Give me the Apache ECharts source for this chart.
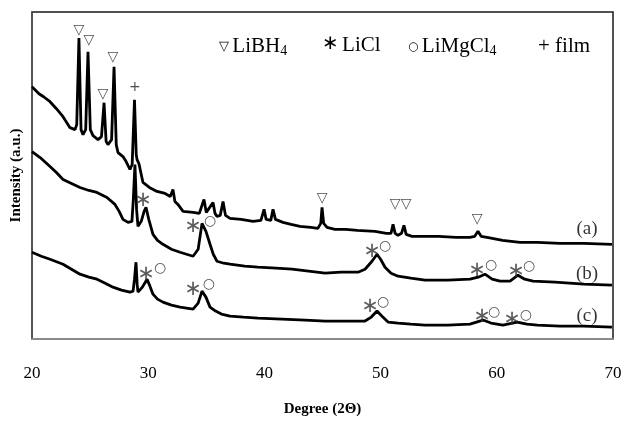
<!DOCTYPE html>
<html>
<head>
<meta charset="utf-8">
<script src="https://cdn.jsdelivr.net/npm/echarts@6/dist/echarts.min.js"></script>
<style>
  html, body { margin: 0; padding: 0; background: #fff; }
  #main { width: 625px; height: 422px; }
</style>
</head>
<body>
<div id="main"></div>
<script>
// [2theta, intensity (a.u., offset traces)]
var traceA = [
  [20.0, 253], [20.6, 246], [21.0, 243], [21.55, 238], [22.1, 231], [22.67, 223], [23.27, 212], [23.7, 210],
  [23.85, 215], [24.04, 302], [24.22, 210], [24.39, 205], [24.62, 210], [24.82, 288], [25.02, 210],
  [25.25, 204], [25.68, 200], [25.98, 203], [26.2, 237], [26.38, 198], [26.54, 195], [26.85, 200],
  [27.06, 273], [27.25, 195], [27.4, 187], [27.83, 183], [28.1, 178], [28.43, 170], [28.62, 175],
  [28.82, 240], [28.97, 185], [29.04, 180], [29.2, 176], [29.55, 157], [30.1, 152], [30.76, 148],
  [31.45, 146], [31.9, 143], [32.13, 150], [32.3, 138], [32.56, 135], [33.0, 128], [33.86, 127],
  [34.4, 126], [34.8, 140], [35.0, 127], [35.15, 125], [35.58, 137], [35.75, 126], [35.92, 123],
  [36.2, 124], [36.44, 138], [36.65, 124], [37.04, 121], [38.0, 120], [39.02, 118], [39.7, 119],
  [39.97, 130], [40.15, 120], [40.31, 118], [40.55, 119], [40.74, 130], [40.95, 120], [41.6, 117],
  [42.3, 115], [43.06, 113], [44.0, 112], [44.6, 111], [44.85, 116], [44.96, 132], [45.1, 116],
  [45.39, 112], [46.08, 110], [47.0, 110], [48.0, 109], [49.52, 108], [50.5, 106], [50.9, 106],
  [51.07, 115], [51.25, 106], [51.5, 104], [51.8, 106], [52.01, 114], [52.2, 105], [52.7, 103],
  [53.82, 103], [55.0, 103], [56.5, 102], [57.69, 102], [58.1, 103], [58.38, 108], [58.65, 103],
  [59.16, 102], [60.5, 99], [62.0, 97], [63.5, 97], [65.44, 96], [67.5, 96], [69.91, 95]
];
var traceB = [
  [20.0, 188], [20.7, 182], [21.55, 173], [22.1, 167], [22.67, 160], [23.4, 156], [24.13, 152],
  [24.9, 149], [25.59, 147], [26.45, 142], [27.14, 135], [27.5, 128], [27.83, 120], [28.26, 117],
  [28.6, 118], [28.72, 140], [28.86, 175], [29.0, 130], [29.12, 113], [29.4, 118], [29.65, 128],
  [29.81, 132], [30.05, 120], [30.41, 105], [30.8, 99], [31.27, 95], [32.0, 90], [32.74, 87],
  [33.3, 85], [33.86, 83], [34.3, 90], [34.63, 116], [34.97, 108], [35.32, 95], [35.6, 85],
  [35.92, 78], [36.5, 76], [37.04, 75], [38.3, 73], [39.45, 72], [41.0, 71], [42.38, 70],
  [43.8, 68], [45.22, 66], [46.6, 67], [48.06, 67], [48.66, 70], [49.26, 78], [49.69, 85],
  [50.0, 80], [50.38, 72], [50.9, 66], [51.5, 63], [52.6, 61], [53.82, 59], [55.8, 59],
  [57.69, 60], [58.4, 62], [58.98, 65], [59.6, 60], [60.28, 58], [61.14, 58], [61.82, 64],
  [62.4, 60], [63.12, 58], [65.0, 57], [67.5, 55], [69.91, 54]
];
var traceC = [
  [20.0, 87], [20.8, 83], [21.55, 80], [22.67, 75], [23.4, 70], [24.13, 65], [24.9, 62],
  [25.59, 60], [26.3, 56], [26.97, 52], [27.7, 49], [28.43, 47], [28.7, 48], [28.82, 60],
  [28.95, 77], [29.05, 55], [29.12, 47], [29.5, 52], [29.9, 60], [30.15, 53], [30.41, 45],
  [30.8, 40], [31.27, 37], [32.0, 34], [32.74, 32], [33.3, 31], [33.86, 30], [34.3, 36],
  [34.63, 48], [34.97, 42], [35.32, 32], [35.8, 28], [36.3, 25], [37.04, 23], [38.2, 22],
  [39.45, 21], [41.5, 20], [43.5, 19], [45.22, 18], [47.0, 18], [48.66, 18], [49.2, 22],
  [49.69, 28], [50.1, 23], [50.64, 17], [51.5, 16], [52.6, 15], [53.82, 14], [55.8, 14],
  [57.69, 15], [58.81, 19], [59.5, 16], [60.53, 14], [61.74, 17], [62.6, 15], [63.5, 14],
  [65.44, 13], [67.5, 13], [69.91, 12]
];
// peak markers: [2theta, height, glyph]
var peakMarks = [
  [24.04, 310, '▽'], [24.9, 300, '▽'], [26.11, 245, '▽'], [26.97, 283, '▽'], [28.86, 252, '+'],
  [44.96, 141, '▽'], [51.24, 135, '▽'], [52.19, 135, '▽'], [58.3, 120, '▽'],
  [29.55, 139, '∗'], [33.86, 113, '∗'], [35.32, 118, '○'], [49.26, 88, '∗'], [50.38, 93, '○'],
  [58.3, 69, '∗'], [59.5, 74, '○'], [61.65, 68, '∗'], [62.77, 73, '○'],
  [29.81, 65, '∗'], [31.02, 71, '○'], [33.86, 50, '∗'], [35.23, 55, '○'], [49.09, 33, '∗'],
  [50.21, 37, '○'], [58.73, 23, '∗'], [59.76, 27, '○'], [61.31, 20, '∗'], [62.51, 24, '○']
];
var traceLabels = [[67.76, 110, '(a)'], [67.76, 65, '(b)'], [67.76, 23, '(c)']];
var xTicks = [20, 30, 40, 50, 60, 70];

var serif = '"Liberation Serif", "Times New Roman", serif';
var chart = echarts.init(document.getElementById('main'));

function lineSeries(data) {
  return {
    type: 'line',
    data: data,
    showSymbol: false,
    smooth: false,
    lineStyle: { color: '#000', width: 2.8 },
    z: 3
  };
}

function glyphSeries(data, size, color) {
  return {
    type: 'scatter',
    data: data,
    symbolSize: 0,
    z: 4,
    label: {
      show: true,
      position: 'inside',
      formatter: function (p) { return p.data[2]; },
      fontFamily: '"DejaVu Sans", sans-serif',
      fontSize: size,
      color: color
    }
  };
}

chart.setOption({
  animation: false,
  grid: {
    left: 32, right: 12, top: 12, bottom: 82,
    show: true, borderColor: '#1a1a1a', borderWidth: 1.5
  },
  xAxis: {
    type: 'value',
    min: xTicks[0],
    max: xTicks[xTicks.length - 1],
    interval: 10,
    name: 'Degree (2Θ)',
    nameLocation: 'middle',
    nameGap: 63,
    nameTextStyle: { fontFamily: serif, fontWeight: 'bold', fontSize: 15, color: '#000' },
    axisLine: { show: true, lineStyle: { color: '#8a8a8a', width: 2 } },
    axisTick: { show: false },
    splitLine: { show: false },
    axisLabel: { fontFamily: serif, fontSize: 17, color: '#000', margin: 26 }
  },
  yAxis: {
    type: 'value',
    min: 0,
    max: 328,
    name: 'Intensity (a.u.)',
    nameLocation: 'middle',
    nameGap: 8,
    nameTextStyle: { fontFamily: serif, fontWeight: 'bold', fontSize: 15, color: '#000' },
    axisLine: { show: true, lineStyle: { color: '#555', width: 1.5 } },
    axisTick: { show: false },
    axisLabel: { show: false },
    splitLine: { show: false }
  },
  series: [
    lineSeries(traceA),
    lineSeries(traceB),
    lineSeries(traceC),
    glyphSeries(peakMarks.filter(function (d) { return d[2] !== '∗'; }), 14, '#222'),
    glyphSeries(peakMarks.filter(function (d) { return d[2] === '∗'; }), 21, '#333'),
    {
      type: 'scatter',
      data: traceLabels,
      symbolSize: 0,
      z: 4,
      label: {
        show: true,
        position: 'inside',
        formatter: function (p) { return p.data[2]; },
        fontFamily: serif,
        fontSize: 19,
        color: '#000'
      }
    }
  ],
  graphic: [
    {
      type: 'text', left: 219, top: 36,
      style: {
        text: '{s|▽} {t|LiBH}{b|4}',
        rich: {
          s: { fontFamily: '"DejaVu Sans"', fontSize: 13, fill: '#000' },
          t: { fontFamily: serif, fontSize: 21, fill: '#000' },
          b: { fontFamily: serif, fontSize: 14, fill: '#000', padding: [10, 0, 0, 0] }
        }
      }
    },
    {
      type: 'text', left: 322, top: 34,
      style: {
        text: '{s|∗} {t|LiCl}',
        rich: {
          s: { fontFamily: '"DejaVu Sans"', fontSize: 20, fill: '#000' },
          t: { fontFamily: serif, fontSize: 21, fill: '#000', padding: [2, 0, 0, 0] }
        }
      }
    },
    {
      type: 'text', left: 408, top: 36,
      style: {
        text: '{s|○} {t|LiMgCl}{b|4}',
        rich: {
          s: { fontFamily: '"DejaVu Sans"', fontSize: 12, fill: '#000' },
          t: { fontFamily: serif, fontSize: 21, fill: '#000' },
          b: { fontFamily: serif, fontSize: 14, fill: '#000', padding: [10, 0, 0, 0] }
        }
      }
    },
    {
      type: 'text', left: 538, top: 36,
      style: {
        text: '{t|+ film}',
        rich: {
          t: { fontFamily: serif, fontSize: 21, fill: '#000' }
        }
      }
    }
  ]
});
</script>
</body>
</html>
